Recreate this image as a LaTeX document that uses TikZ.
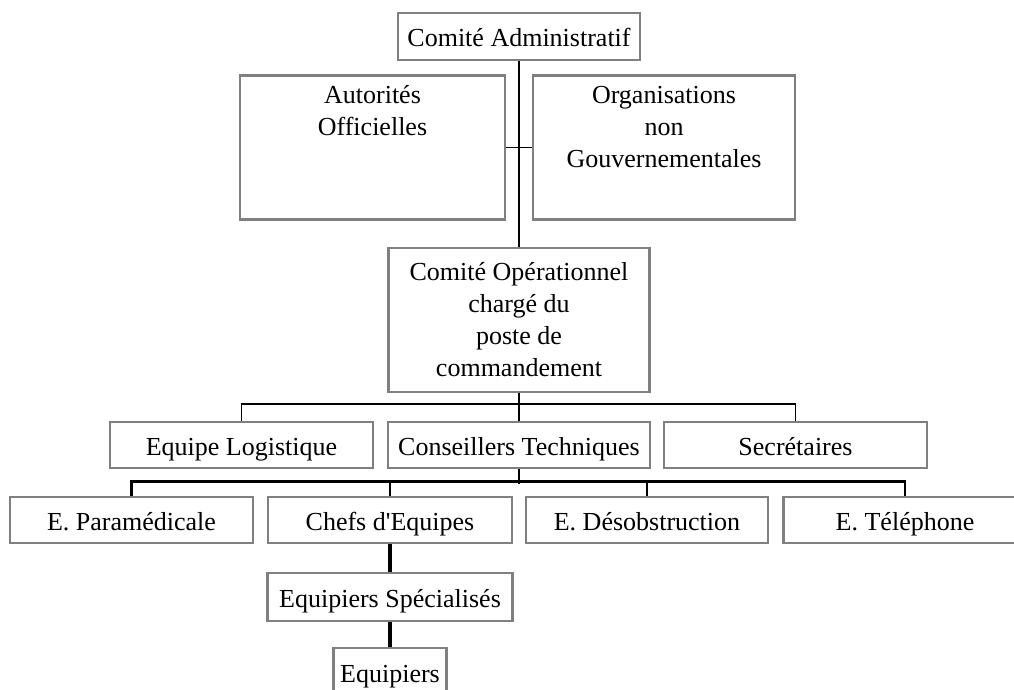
\documentclass[tikz,border=0pt]{standalone}
\usepackage{fontspec}
\setmainfont{Liberation Serif}[Ligatures=TeXOff]
\usepackage{tikz}
\usetikzlibrary{positioning,calc}

\tikzset{
  poste/.style={draw=black!50, line width=2.6pt, fill=white, align=center, inner sep=0pt},
  ligne/.style={poste, text height=22pt, text depth=2pt},
  lien/.style={draw=black, line width=1.3pt},
  lienfort/.style={draw=black, line width=3.2pt}
}

\begin{document}
\begin{tikzpicture}[x=1pt, y=-1pt, font=\fontsize{26}{32}\selectfont]
        \useasboundingbox (0,0) rectangle (1014,690);
        \clip (0,0) rectangle (1014,690);

        % Comites
        \node[ligne, minimum width=242pt, minimum height=47pt] (adm) at (519,36.5) {Comité Administratif};
        \node[poste, minimum width=265pt, minimum height=144pt] (aut) at (372.5,147.5) {Autorités\\Officielles\\\strut\\\strut};
        \node[poste, minimum width=262pt, minimum height=144pt] (ong) at (664,147.5) {Organisations\\non\\Gouvernementales\\\strut};
        \node[poste, minimum width=261pt, minimum height=144pt] (op) at (519,320) {Comité Opérationnel\\chargé du\\poste de\\commandement};

        % Equipes du poste de commandement
        \node[ligne, minimum width=263pt, minimum height=46pt] (log) at (241.5,445) {Equipe Logistique};
        \node[ligne, minimum width=262pt, minimum height=46pt] (cons) at (519,445) {Conseillers Techniques};
        \node[ligne, minimum width=263pt, minimum height=46pt] (sec) at (795.5,445) {Secrétaires};

        % Equipes de terrain
        \node[ligne, minimum width=243pt, minimum height=46pt] (para) at (131.5,520) {E. Paramédicale};
        \node[ligne, minimum width=244pt, minimum height=46pt] (chefs) at (390,520) {Chefs d'Equipes};
        \node[ligne, minimum width=242pt, minimum height=46pt] (deso) at (647,520) {E. Désobstruction};
        \node[ligne, minimum width=243pt, minimum height=46pt] (tel) at (905,520) {E. Téléphone};
        \node[ligne, minimum width=245pt, minimum height=48pt] (es) at (390,597) {Equipiers Spécialisés};
        \node[ligne, minimum width=113pt, minimum height=48pt] (eq) at (390,672) {Equipiers};

        % Liaisons
        \draw[lien] (adm.south) -- (op.north);
        \draw[lien] (aut.east) -- (ong.west);
        \draw[lien, line width=1.8pt] (op.south) -- (cons.north);
        \draw[lien, line width=1.8pt] (log.north) -- ++(0,-17) -| (sec.north);
        \draw[lien, line width=1.8pt] (cons.south) -- ++(0,15);
        \draw[lienfort, line width=2.8pt] (para.north) -- ++(0,-14) -| (tel.north);
        \draw[lienfort, line width=2.8pt] (chefs.north) -- ++(0,-14);
        \draw[lien, line width=1.8pt] (deso.north) -- ++(0,-14);
        \draw[lienfort] (chefs.south) -- (es.north);
        \draw[lienfort] (es.south) -- (eq.north);
    \end{tikzpicture}
\end{document}
